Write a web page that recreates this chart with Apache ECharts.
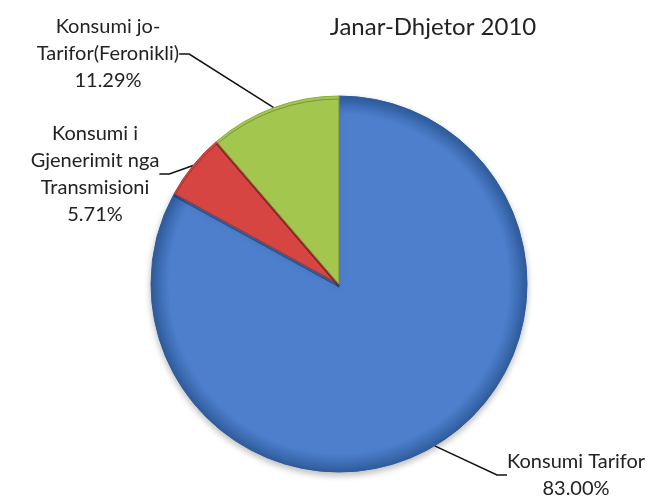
<!DOCTYPE html>
<html>
<head>
<meta charset="utf-8">
<script src="https://cdn.jsdelivr.net/npm/echarts@6/dist/echarts.min.js"></script>
<style>
html, body { margin: 0; padding: 0; background: #fff; }
#container { width: 649px; height: 497px; }
</style>
</head>
<body>
<div id="container"></div>
<script>
var names = ["Konsumi Tarifor", "Konsumi i\nGjenerimit nga\nTransmisioni", "Konsumi jo-\nTarifor(Feronikli)"];
var values = [83.00, 5.71, 11.29];
var colors = ["#4d7fcd", "#d64541", "#a3c74e"];
var edgeColors = ["#2f5c9c", "#b33834", "#8aab3c"];

var dom = document.getElementById("container");
var myChart = echarts.init(dom);

var labelPos = [
    { x: 576, y: 475 },
    { x: 95, y: 174 },
    { x: 108, y: 54 }
];

var option = {
    backgroundColor: "#fff",
    animation: false,
    title: {
        text: "Janar-Dhjetor 2010",
        left: 428,
        top: 10,
        textAlign: "center",
        textStyle: {
            fontFamily: "Lato",
            fontWeight: "normal",
            fontSize: 24,
            color: "#222"
        }
    },
    series: [
        {
            type: "pie",
            center: [339, 284],
            radius: 188,
            startAngle: 90,
            clockwise: true,
            data: values.map(function (v, i) {
                var c = colors[i];
                if (i === 0) {
                    c = {
                        type: "radial", x: 0.5, y: 0.5, r: 0.5,
                        colorStops: [
                            { offset: 0, color: colors[i] },
                            { offset: 0.9, color: colors[i] },
                            { offset: 1, color: edgeColors[i] }
                        ]
                    };
                }
                return {
                    name: names[i],
                    value: v,
                    itemStyle: {
                        color: c,
                        borderColor: edgeColors[i],
                        borderWidth: 1,
                        shadowBlur: i === 0 ? 6 : 0,
                        shadowOffsetY: 3,
                        shadowColor: "rgba(0,0,0,0.25)"
                    }
                };
            }),
            label: {
                show: true,
                formatter: function (p) {
                    return p.name + "\n" + p.value.toFixed(2) + "%";
                },
                fontFamily: "Lato",
                fontSize: 20,
                lineHeight: 27,
                color: "#222",
                align: "center"
            },
            labelLine: {
                show: true,
                length: 20,
                length2: 10,
                lineStyle: { color: "#111", width: 1.5 }
            },
            labelLayout: function (params) {
                var p = labelPos[params.dataIndex];
                return { x: p.x, y: p.y, align: "center", verticalAlign: "middle", moveOverlap: false };
            },
            emphasis: { disabled: true }
        }
    ]
};

myChart.setOption(option);
</script>
</body>
</html>
